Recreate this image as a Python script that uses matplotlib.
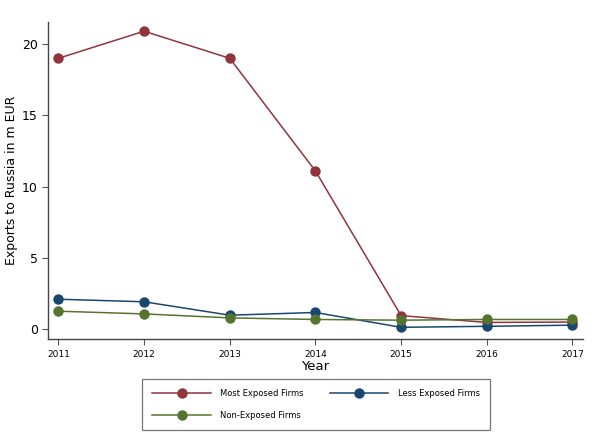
import matplotlib.pyplot as plt
from matplotlib.lines import Line2D

years = [2011, 2012, 2013, 2014, 2015, 2016, 2017]
most_exposed = [19.0, 20.9, 19.0, 11.1, 0.95, 0.47, 0.5]
less_exposed = [2.1, 1.92, 0.98, 1.17, 0.13, 0.2, 0.28]
non_exposed = [1.26, 1.07, 0.79, 0.68, 0.63, 0.68, 0.68]

red = "#90353b"
navy = "#1a476f"
green = "#55752f"

fig = plt.figure(figsize=(5.94, 4.48), dpi=100)
ax = fig.add_axes([0.081, 0.243, 0.9, 0.708])

style = dict(linewidth=1.1, marker="o", markersize=7.5, markeredgewidth=0)
ax.plot(years, most_exposed, color=red, **style)
ax.plot(years, less_exposed, color=navy, **style)
ax.plot(years, non_exposed, color=green, **style)

ax.set_xlim(2010.88, 2017.12)
ax.set_ylim(-0.7, 21.55)
ax.set_xticks(years)
ax.set_xticklabels([str(y) for y in years], fontsize=6.5)
ax.set_yticks([0, 5, 10, 15, 20])
ax.tick_params(axis="y", labelsize=9, length=4, color="#555555")
ax.tick_params(axis="x", length=4, color="#555555")
for s in ["top", "right"]:
    ax.spines[s].set_visible(False)
for s in ["left", "bottom"]:
    ax.spines[s].set_color("#444444")
    ax.spines[s].set_linewidth(1.0)

ax.set_xlabel("Year", fontsize=9.5, labelpad=1)
ax.set_ylabel("Exports to Russia in m EUR", fontsize=9, labelpad=3)

def handle(c):
    return Line2D([], [], color=c, linewidth=1.1, marker="o", markersize=7.5,
                  markeredgewidth=0)

# reorder so the legend reads row by row
handles = [handle(red), handle(green), handle(navy)]
labels = ["Most Exposed Firms", "Non-Exposed Firms", "Less Exposed Firms"]
leg = fig.legend(handles, labels, ncol=2, loc="center",
                 bbox_to_anchor=(0.532, 0.097), fontsize=6,
                 frameon=True, fancybox=False, handlelength=7.0,
                 columnspacing=3.2, handletextpad=1.1, labelspacing=1.6,
                 borderpad=1.2, borderaxespad=0)
leg.get_frame().set_edgecolor("#555555")
leg.get_frame().set_linewidth(0.9)

fig.savefig("out.png", dpi=100)
